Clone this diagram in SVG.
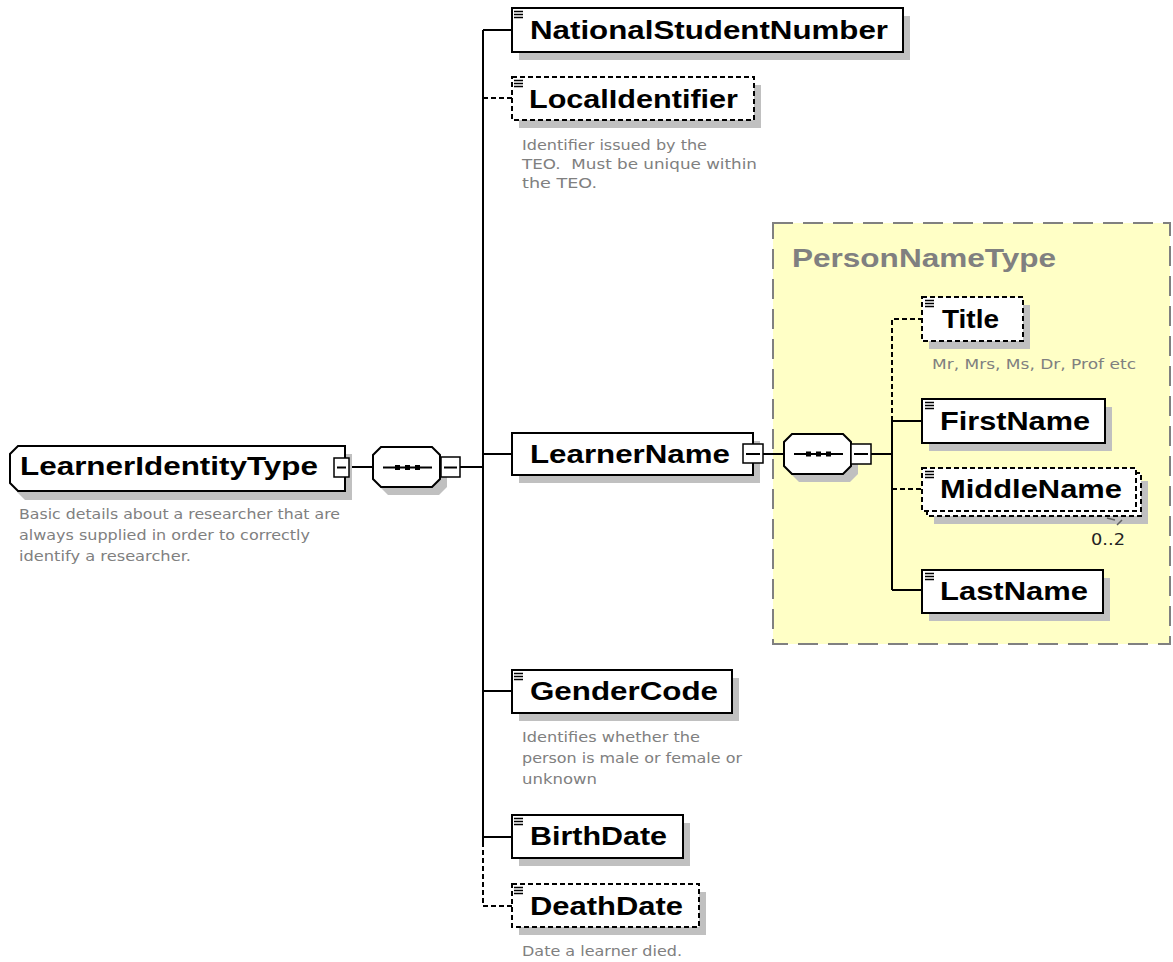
<svg xmlns="http://www.w3.org/2000/svg" width="1173" height="962" viewBox="0 0 1173 962">
<style>
.bx{fill:#fff;stroke:#000;stroke-width:2}
.opt{stroke-dasharray:5 3}
.sh{fill:#c0c0c0}
.nm{font-family:"Liberation Sans",Arial,sans-serif;font-weight:bold;font-size:26px;fill:#000}
.ds{font-family:"DejaVu Sans",Verdana,sans-serif;font-size:14px;fill:#808080}
.cn{stroke:#000;stroke-width:2;fill:none}
.ic{stroke:#000;stroke-width:1.3;fill:none}
.btn{fill:#fff;stroke:#000;stroke-width:1.5}
</style>
<defs>
<path id="icon" class="ic" d="M0,0.5 H9 M0,3.5 H9 M0,6.5 H9"/>
</defs>
<rect x="0" y="0" width="1173" height="962" fill="#fff"/>

<g id="PersonNameType">
<rect x="773" y="223" width="397" height="421" fill="#ffffc6" stroke="#808080" stroke-width="2" stroke-dasharray="20 10"/>
<text x="792" y="267" font-family="Liberation Sans,Arial,sans-serif" font-weight="bold" font-size="26" fill="#808080" textLength="264" lengthAdjust="spacingAndGlyphs">PersonNameType</text>
</g>

<g id="connectors">
<path class="cn" d="M348,467 H373 M460,467 H483 M483,30 V842 M483,30 H512 M483,454 H512 M483,691 H512 M483,837 H512"/>
<path class="cn opt" d="M483,842 V906 H512 M483,98 H512"/>
<path class="cn" d="M763,454 H784 M871,454 H892 M892,421 V590 M892,421 H922 M892,590 H922"/>
<path class="cn opt" d="M892,421 V319 H922 M892,489 H922"/>
</g>

<g id="LearnerIdentityType">
<path class="sh" d="M25,454 H352 V500 H25 L17,492 V462 Z"/>
<path class="bx" d="M18,446 H345 V491 H18 L10,483 V454 Z"/>
<text class="nm" x="20" y="475" textLength="298" lengthAdjust="spacingAndGlyphs">LearnerIdentityType</text>
<rect class="btn" x="334" y="458" width="15" height="19"/>
<path class="cn" d="M337,467.5 H346" stroke-width="1.5"/>
<text class="ds" x="19" y="519" textLength="321" lengthAdjust="spacingAndGlyphs">Basic details about a researcher that are</text>
<text class="ds" x="19" y="540" textLength="291" lengthAdjust="spacingAndGlyphs">always supplied in order to correctly</text>
<text class="ds" x="19" y="561" textLength="172" lengthAdjust="spacingAndGlyphs">identify a researcher.</text>
</g>

<g id="sequence1">
<path class="sh" d="M388,455 H439 L447,463 V487 L439,495 H388 L380,487 V463 Z"/>
<path class="bx" d="M381,447 H432 L440,455 V479 L432,487 H381 L373,479 V455 Z"/>
<path class="cn" d="M383,467.5 H432" stroke-width="1.5"/>
<rect x="395" y="465" width="5" height="5"/>
<rect x="405" y="465" width="5" height="5"/>
<rect x="415" y="465" width="5" height="5"/>
<rect class="btn" x="441" y="457" width="19" height="20"/>
<path class="cn" d="M444,467.5 H457" stroke-width="1.5"/>
</g>

<g id="NationalStudentNumber">
<rect class="sh" x="519" y="16" width="391" height="44"/>
<rect class="bx" x="512" y="8" width="391" height="44"/>
<use href="#icon" x="514" y="11"/>
<text class="nm" x="530" y="39" textLength="358" lengthAdjust="spacingAndGlyphs">NationalStudentNumber</text>
</g>

<g id="LocalIdentifier">
<rect class="sh" x="519" y="85" width="242" height="43"/>
<rect class="bx opt" x="512" y="77" width="242" height="43"/>
<use href="#icon" x="514" y="80"/>
<text class="nm" x="529" y="108" textLength="209" lengthAdjust="spacingAndGlyphs">LocalIdentifier</text>
<text class="ds" x="522" y="150" textLength="185" lengthAdjust="spacingAndGlyphs">Identifier issued by the</text>
<text class="ds" x="522" y="169" textLength="235" lengthAdjust="spacingAndGlyphs">TEO.&#160; Must be unique within</text>
<text class="ds" x="522" y="188" textLength="75" lengthAdjust="spacingAndGlyphs">the TEO.</text>
</g>

<g id="LearnerName">
<rect class="sh" x="519" y="441" width="241" height="42"/>
<rect class="bx" x="512" y="433" width="241" height="42"/>
<text class="nm" x="530" y="463" textLength="200" lengthAdjust="spacingAndGlyphs">LearnerName</text>
<rect class="btn" x="743" y="444" width="20" height="19"/>
<path class="cn" d="M746,454 H760" stroke-width="1.5"/>
</g>

<g id="sequence2">
<path class="sh" d="M799,442 H850 L858,450 V474 L850,482 H799 L791,474 V450 Z"/>
<path class="bx" d="M792,434 H843 L851,442 V466 L843,474 H792 L784,466 V442 Z"/>
<path class="cn" d="M794,454 H843" stroke-width="1.5"/>
<rect x="806" y="451.5" width="5" height="5"/>
<rect x="816" y="451.5" width="5" height="5"/>
<rect x="826" y="451.5" width="5" height="5"/>
<rect class="btn" x="851" y="444" width="20" height="20"/>
<path class="cn" d="M854,454 H868" stroke-width="1.5"/>
</g>

<g id="Title">
<rect class="sh" x="929" y="305" width="101" height="44"/>
<rect class="bx opt" x="922" y="297" width="101" height="44"/>
<use href="#icon" x="925" y="300"/>
<text class="nm" x="942" y="328" textLength="57" lengthAdjust="spacingAndGlyphs">Title</text>
<text class="ds" x="932" y="369" textLength="204" lengthAdjust="spacingAndGlyphs">Mr, Mrs, Ms, Dr, Prof etc</text>
</g>

<g id="FirstName">
<rect class="sh" x="929" y="407" width="183" height="44"/>
<rect class="bx" x="922" y="399" width="183" height="44"/>
<use href="#icon" x="925" y="402"/>
<text class="nm" x="940" y="430" textLength="150" lengthAdjust="spacingAndGlyphs">FirstName</text>
</g>

<g id="MiddleName">
<rect class="sh" x="934" y="481" width="214" height="43"/>
<rect class="bx opt" x="927" y="473" width="214" height="43"/>
<rect class="bx opt" x="922" y="468" width="214" height="43"/>
<use href="#icon" x="925" y="471"/>
<text class="nm" x="940" y="498" textLength="182" lengthAdjust="spacingAndGlyphs">MiddleName</text>
<path d="M1107,518 L1115,520 M1117,525 L1122,520" stroke="#606060" stroke-width="1.5" fill="none"/>
<text x="1091" y="545" font-family="DejaVu Sans,Verdana,sans-serif" font-size="15" fill="#222" textLength="34" lengthAdjust="spacingAndGlyphs">0..2</text>
</g>

<g id="LastName">
<rect class="sh" x="929" y="578" width="181" height="43"/>
<rect class="bx" x="922" y="570" width="181" height="43"/>
<use href="#icon" x="925" y="573"/>
<text class="nm" x="940" y="600" textLength="148" lengthAdjust="spacingAndGlyphs">LastName</text>
</g>

<g id="GenderCode">
<rect class="sh" x="519" y="678" width="220" height="43"/>
<rect class="bx" x="512" y="670" width="220" height="43"/>
<use href="#icon" x="514" y="673"/>
<text class="nm" x="530" y="700" textLength="188" lengthAdjust="spacingAndGlyphs">GenderCode</text>
<text class="ds" x="522" y="742" textLength="178" lengthAdjust="spacingAndGlyphs">Identifies whether the</text>
<text class="ds" x="522" y="763" textLength="220" lengthAdjust="spacingAndGlyphs">person is male or female or</text>
<text class="ds" x="522" y="784" textLength="75" lengthAdjust="spacingAndGlyphs">unknown</text>
</g>

<g id="BirthDate">
<rect class="sh" x="519" y="823" width="171" height="43"/>
<rect class="bx" x="512" y="815" width="171" height="43"/>
<use href="#icon" x="514" y="818"/>
<text class="nm" x="530" y="845" textLength="137" lengthAdjust="spacingAndGlyphs">BirthDate</text>
</g>

<g id="DeathDate">
<rect class="sh" x="519" y="892" width="187" height="43"/>
<rect class="bx opt" x="512" y="884" width="187" height="43"/>
<use href="#icon" x="514" y="887"/>
<text class="nm" x="530" y="915" textLength="153" lengthAdjust="spacingAndGlyphs">DeathDate</text>
<text class="ds" x="522" y="956" textLength="160" lengthAdjust="spacingAndGlyphs">Date a learner died.</text>
</g>
</svg>
